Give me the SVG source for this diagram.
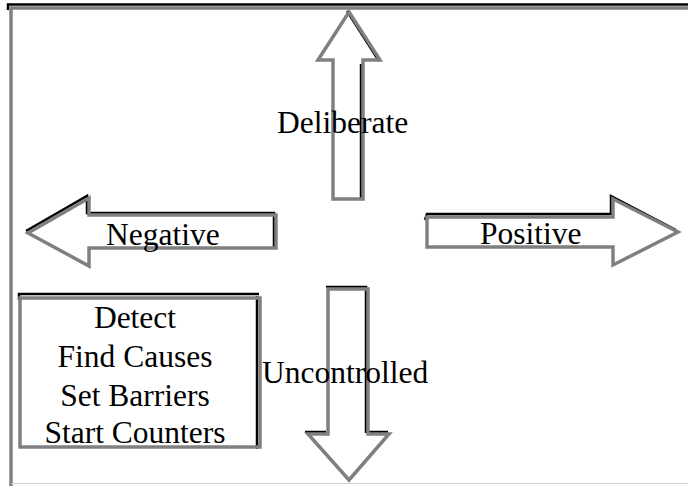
<svg xmlns="http://www.w3.org/2000/svg" width="688" height="486" viewBox="0 0 688 486">
<style>
.g{fill:none;stroke:#808080;stroke-width:3.5;stroke-linejoin:miter}
.k{fill:none;stroke:#000;stroke-width:2.5;stroke-linejoin:miter}
text{font-family:"Liberation Serif","Times New Roman",serif;font-size:31.5px;fill:#000}
</style>
<rect width="688" height="486" fill="#fff"/>
<g id="frame">
<polyline class="k" points="8,10 8,4.5 688,4.5" stroke-width="3"/>
<polyline class="g" points="11,486 11,8 688,8"/>
<line x1="11" y1="483.5" x2="688" y2="483.5" stroke="#d0d0d0" stroke-width="1"/>
</g>
<g id="connectors">
<g id="deliberate">
<polyline class="k" points="347,11 379,61"/>
<polyline class="k" points="361,64 361,200"/>
<polygon class="g" points="349,12 380,60 363,60 363,199 333,199 333,60 318,60"/>
<text x="277" y="133">Deliberate</text>
</g>
<g id="negative">
<polyline class="k" points="26,231 87,196 87,213 274,213 274,249"/>
<polygon class="g" points="28,233 89,198 89,215 276,215 276,248 89,248 89,266"/>
<text x="106" y="245">Negative</text>
</g>
<g id="positive">
<polyline class="k" points="425,220 427,214 611,214 611,196 676,230"/>
<polygon class="g" points="427,217 613,217 613,199 678,232 613,265 613,247 427,247"/>
<text x="480" y="244">Positive</text>
</g>
<g id="uncontrolled">
<polyline class="k" points="326,287 366,287 366,433"/>
<polyline class="k" points="305,432 326,432"/>
<polyline class="k" points="368,432 388,432"/>
<polygon class="g" points="328,289 368,289 368,434 389,434 349,480 308,434 328,434"/>
<text x="262" y="383">Uncontrolled</text>
</g>
</g>
<g id="actions">
<polyline class="k" points="19,300 19,294 259,294"/>
<line class="k" x1="257" y1="296" x2="257" y2="449"/>
<rect class="g" x="20" y="298" width="240" height="149"/>
<text x="135" y="328" text-anchor="middle">Detect</text>
<text x="135" y="367" text-anchor="middle">Find Causes</text>
<text x="135" y="406" text-anchor="middle">Set Barriers</text>
<text x="135" y="443" text-anchor="middle">Start Counters</text>
</g>
</svg>
